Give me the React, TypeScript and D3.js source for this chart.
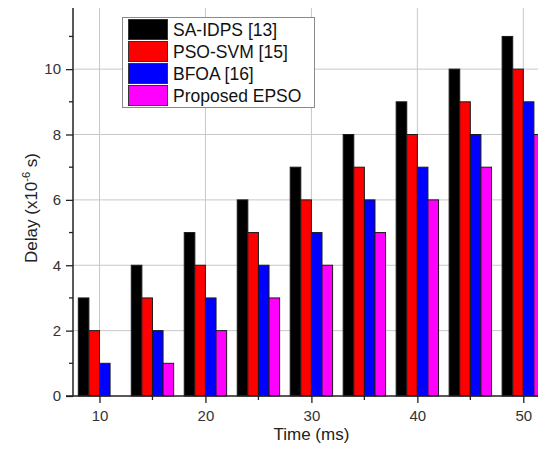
import React, { useEffect, useRef } from 'react';
import * as d3 from 'd3';

const times = [10, 15, 20, 25, 30, 35, 40, 45, 50];
const saIdps = [3, 4, 5, 6, 7, 8, 9, 10, 11];
const psoSvm = [2, 3, 4, 5, 6, 7, 8, 9, 10];
const bfoa = [1, 2, 3, 4, 5, 6, 7, 8, 9];
const epso = [0, 1, 2, 3, 4, 5, 6, 7, 8];
const seriesNames = ['SA-IDPS [13]', 'PSO-SVM [15]', 'BFOA [16]', 'Proposed EPSO'];
const seriesColors = ['#000000', '#ff0000', '#0000ff', '#ff00ff'];
const xTicks = [10, 20, 30, 40, 50];
const yTicks = [0, 2, 4, 6, 8, 10];

const W = 538;
const H = 452;
const FONT = '"Liberation Sans", Arial, sans-serif';

function App() {
    const svgRef = useRef(null);

    useEffect(() => {
        const svg = d3.select(svgRef.current);
        svg.selectAll('*').remove();

        const margin = { left: 73, top: 8, bottom: 56 };
        const x = d3.scaleLinear().domain([7.5, 52.5]).range([margin.left, 549.8]);
        const y = d3.scaleLinear().domain([0, 11.87]).range([H - margin.bottom, margin.top]);
        const series = [saIdps, psoSvm, bfoa, epso];

        // grid
        const grid = svg.append('g').attr('stroke', '#c8c8c8').attr('stroke-width', 1);
        grid.selectAll('line.v').data(xTicks).enter().append('line')
            .attr('x1', d => x(d)).attr('x2', d => x(d))
            .attr('y1', y(0)).attr('y2', margin.top);
        grid.selectAll('line.h').data(yTicks.filter(d => d > 0)).enter().append('line')
            .attr('x1', margin.left).attr('x2', W)
            .attr('y1', d => y(d)).attr('y2', d => y(d));

        // bars
        series.forEach((vals, si) => {
            svg.append('g').selectAll('rect').data(times).enter().append('rect')
                .attr('x', (t) => x(t - 2 + si))
                .attr('width', (t) => x(t - 1 + si) - x(t - 2 + si))
                .attr('y', (t, i) => y(vals[i]))
                .attr('height', (t, i) => y(0) - y(vals[i]))
                .attr('fill', seriesColors[si])
                .attr('stroke', '#1a1a1a')
                .attr('stroke-width', 1);
        });

        // axes
        const xAxis = d3.axisBottom(x).tickValues(xTicks).tickSize(7).tickPadding(7).tickFormat(d3.format('d'));
        const gx = svg.append('g').attr('transform', `translate(0,${y(0)})`).call(xAxis);
        gx.selectAll('line.minor').data([15, 25, 35, 45]).enter().append('line')
            .attr('x1', d => x(d)).attr('x2', d => x(d)).attr('y1', 0).attr('y2', 4)
            .attr('stroke', '#222').attr('stroke-width', 1.3);

        const yAxis = d3.axisLeft(y).tickValues(yTicks).tickSize(7).tickPadding(5);
        const gy = svg.append('g').attr('transform', `translate(${margin.left},0)`).call(yAxis);
        gy.selectAll('line.minor').data([1, 3, 5, 7, 9, 11]).enter().append('line')
            .attr('x1', 0).attr('x2', -4).attr('y1', d => y(d)).attr('y2', d => y(d))
            .attr('stroke', '#222').attr('stroke-width', 1.3);

        [gx, gy].forEach(g => {
            g.select('.domain').attr('stroke', '#222').attr('stroke-width', 1.5);
            g.selectAll('.tick line').attr('stroke', '#222').attr('stroke-width', 1.3);
            g.selectAll('.tick text').attr('font-family', FONT).attr('font-size', 15).attr('fill', '#333');
        });
        // y axis line should run the full height
        gy.select('.domain').attr('d', `M0,${y(0)}V${margin.top}`);
        gx.select('.domain').attr('d', `M${margin.left - 7},0H${W}`);

        // axis titles
        svg.append('text')
            .attr('x', x(30)).attr('y', 440)
            .attr('text-anchor', 'middle')
            .attr('font-family', FONT).attr('font-size', 17).attr('fill', '#222')
            .text('Time (ms)');

        const yl = svg.append('text')
            .attr('transform', `translate(37,208) rotate(-90)`)
            .attr('text-anchor', 'middle')
            .attr('font-family', FONT).attr('font-size', 17).attr('fill', '#222');
        yl.append('tspan').text('Delay (x10');
        yl.append('tspan').attr('font-size', 11).attr('dy', -7).text('-6');
        yl.append('tspan').attr('dy', 7).text(' s)');

        // legend
        const lg = svg.append('g');
        lg.append('rect')
            .attr('x', 122.5).attr('y', 17.5).attr('width', 192).attr('height', 90)
            .attr('fill', '#fff').attr('stroke', '#8a8a8a').attr('stroke-width', 1);
        seriesNames.forEach((name, i) => {
            const ry = 19.5 + i * 22;
            lg.append('rect')
                .attr('x', 128.5).attr('y', ry).attr('width', 39).attr('height', 20)
                .attr('fill', seriesColors[i]).attr('stroke', '#333').attr('stroke-width', 1);
            lg.append('text')
                .attr('x', 173).attr('y', ry + 16)
                .attr('font-family', FONT).attr('font-size', 17.5).attr('fill', '#111')
                .text(name);
        });
    }, []);

    return (
        <svg ref={svgRef} width={W} height={H}
            style={{ position: 'fixed', left: 0, top: 0, background: '#fff' }} />
    );
}

export default App;
